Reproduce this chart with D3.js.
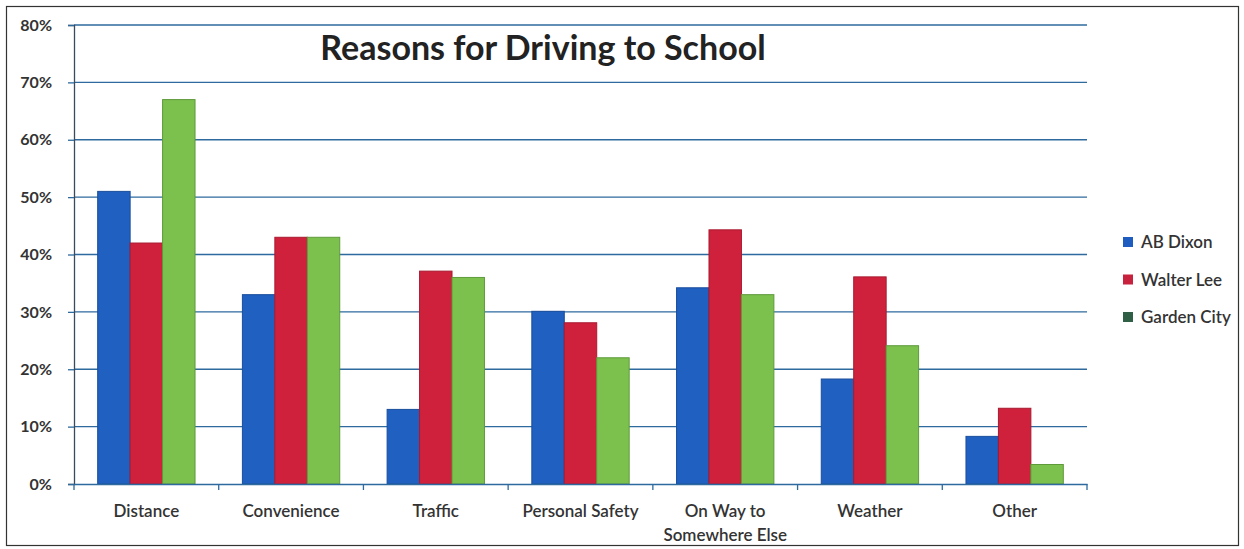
<!DOCTYPE html>
<html>
<head>
<meta charset="utf-8">
<script src="https://cdn.jsdelivr.net/npm/d3@7"></script>
<style>
  body { margin: 0; background: #fff; }
  svg { display: block; }
  text { font-family: Lato, "Open Sans", sans-serif; }
</style>
</head>
<body>
<script>
// chart data
var categories = ["Distance", "Convenience", "Traffic", "Personal Safety", "On Way to\nSomewhere Else", "Weather", "Other"];
var seriesNames = ["AB Dixon", "Walter Lee", "Garden City"];
var abDixon    = [51, 33, 13, 30.1, 34.2, 18.3, 8.3];
var walterLee  = [42, 43, 37.1, 28.1, 44.3, 36.1, 13.2];
var gardenCity = [67, 43, 36, 22, 33, 24.1, 3.4];
var yTicks = [0, 0.1, 0.2, 0.3, 0.4, 0.5, 0.6, 0.7, 0.8];

var fills   = ["#2060C0", "#D0213C", "#7CC04E"];
var strokes = ["#1A4E9C", "#A81A30", "#5E9A3A"];
var legendSwatch = ["#1F5CC0", "#C8213E", "#2F5F45"];

var W = 1244, H = 549;
var margin = { top: 25, right: 157, bottom: 65, left: 74 };
var plotW = W - margin.left - margin.right;
var plotH = H - margin.top - margin.bottom;

var svg = d3.select("body").append("svg")
    .attr("width", W)
    .attr("height", H);

// outer frame
svg.append("rect")
    .attr("x", 6.5).attr("y", 6.5)
    .attr("width", 1232).attr("height", 539)
    .attr("fill", "none")
    .attr("stroke", "#333")
    .attr("stroke-width", 1.2);

var g = svg.append("g")
    .attr("transform", "translate(" + margin.left + "," + margin.top + ")");

var x0 = d3.scaleBand().domain(categories).range([0, plotW]).padding(0);
var x1 = d3.scaleBand().domain(seriesNames).range([0, x0.bandwidth()])
    .paddingInner(0).paddingOuter(0.73);
var y = d3.scaleLinear().domain([0, 0.8]).range([plotH, 0]);

// gridlines
g.append("g").selectAll("line")
    .data(yTicks.slice(1))
    .join("line")
    .attr("x1", 0).attr("x2", plotW)
    .attr("y1", d => y(d)).attr("y2", d => y(d))
    .attr("stroke", "#2E6A9E")
    .attr("stroke-width", 1.3);

// bars
var rows = categories.map(function (c, i) {
    return { cat: c, vals: [abDixon[i], walterLee[i], gardenCity[i]] };
});

g.append("g").selectAll("g")
    .data(rows)
    .join("g")
    .attr("transform", d => "translate(" + x0(d.cat) + ",0)")
    .selectAll("rect")
    .data(d => d.vals.map((v, j) => ({ name: seriesNames[j], v: v / 100, j: j })))
    .join("rect")
    .attr("x", d => x1(d.name))
    .attr("y", d => y(d.v))
    .attr("width", x1.bandwidth())
    .attr("height", d => plotH - y(d.v))
    .attr("fill", d => fills[d.j])
    .attr("stroke", d => strokes[d.j])
    .attr("stroke-width", 1);

// y axis
var yAxis = g.append("g")
    .call(d3.axisLeft(y).tickValues(yTicks).tickFormat(d3.format(".0%")).tickSize(6).tickPadding(16));
yAxis.select(".domain").attr("stroke", "#3a4a5a").attr("stroke-width", 1.3);
yAxis.selectAll(".tick line").attr("stroke", "#2E6A9E").attr("stroke-width", 1.3);
yAxis.selectAll("text")
    .attr("font-family", "Lato, sans-serif")
    .attr("font-size", 16)
    .attr("font-weight", "bold")
    .attr("fill", "#333");

// x axis
var xAxis = g.append("g")
    .attr("transform", "translate(0," + plotH + ")")
    .call(d3.axisBottom(x0).tickSize(0).tickFormat(""));
xAxis.select(".domain").attr("stroke", "#2E6A9E").attr("stroke-width", 1.3);

// category boundary ticks
g.append("g").selectAll("line")
    .data(d3.range(categories.length + 1))
    .join("line")
    .attr("x1", d => d * x0.step()).attr("x2", d => d * x0.step())
    .attr("y1", plotH).attr("y2", plotH + 6)
    .attr("stroke", "#2E6A9E")
    .attr("stroke-width", 1.3);

// category labels
g.append("g").selectAll("text")
    .data(categories)
    .join("text")
    .attr("x", d => x0(d) + x0.bandwidth() / 2)
    .attr("y", plotH + 33)
    .attr("text-anchor", "middle")
    .attr("font-size", 17)
    .attr("font-weight", 600)
    .attr("fill", "#333")
    .selectAll("tspan")
    .data(d => d.split("\n"))
    .join("tspan")
    .attr("x", function () { return d3.select(this.parentNode).attr("x"); })
    .attr("dy", (d, i) => i === 0 ? 0 : 24)
    .text(d => d);

// title
svg.append("text")
    .attr("x", 543)
    .attr("y", 60)
    .attr("text-anchor", "middle")
    .attr("font-size", 34)
    .attr("font-weight", "bold")
    .attr("fill", "#222")
    .text("Reasons for Driving to School");

// legend
var legend = svg.append("g").selectAll("g")
    .data(seriesNames)
    .join("g")
    .attr("transform", (d, i) => "translate(1123," + (243 + i * 37.5) + ")");
legend.append("rect")
    .attr("x", 0).attr("y", -6)
    .attr("width", 10).attr("height", 10)
    .attr("fill", (d, i) => legendSwatch[i]);
legend.append("text")
    .attr("x", 18).attr("y", 5)
    .attr("font-size", 17)
    .attr("font-weight", 600)
    .attr("fill", "#333")
    .text(d => d);
</script>
</body>
</html>
